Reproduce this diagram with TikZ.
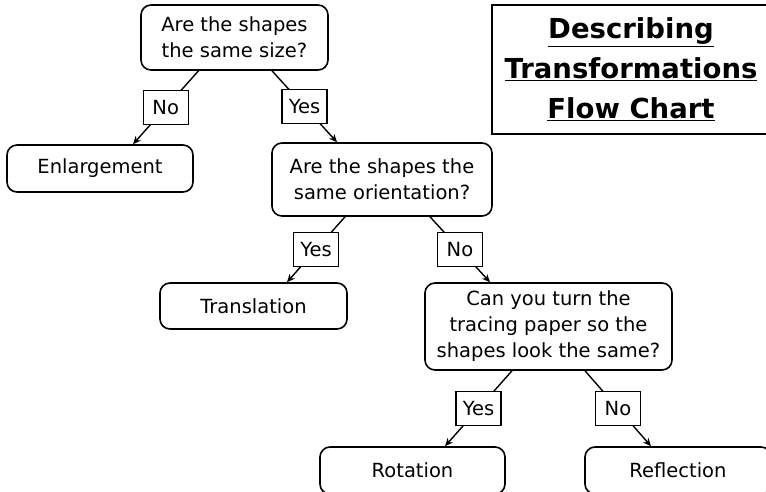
\documentclass[tikz,border=0pt]{standalone}
\usepackage{fontspec}
\setmainfont{DejaVu Sans}
\usetikzlibrary{arrows.meta}

\begin{document}
\begin{tikzpicture}[x=1pt,y=-1pt,
      question/.style = {draw, rounded corners=10pt, line width=1.6pt,
         align=center, inner sep=2pt, font=\fontsize{19.5}{26}\selectfont},
      result/.style = {question},
      answer/.style = {draw, fill=white, line width=1.4pt, minimum width=45pt,
         minimum height=34pt, inner xsep=5pt, inner ysep=0pt,
         font=\fontsize{19.5}{22}\selectfont},
      branch/.style = {line width=1.4pt, -{Stealth[length=8pt,width=7pt]}}
]
   \useasboundingbox (0,0) rectangle (766,491);
   \clip (0,0) rectangle (766,491);

   % title
   \node[draw, line width=1.4pt, minimum width=278pt, minimum height=129pt,
      align=center, font=\bfseries\fontsize{27.5}{40}\selectfont]
      (title) at (631,69.5)
      {\underline{Describing}\\ \underline{Transformations}\\ \underline{Flow Chart}};

   % questions
   \node[question, minimum width=187pt, minimum height=65pt] (size) at (234.5,37.5)
      {Are the shapes\\ the same size?};
   \node[question, minimum width=220pt, minimum height=73pt] (orient) at (382,179.5)
      {Are the shapes the\\ same orientation?};
   \node[question, minimum width=247pt, minimum height=87pt] (turn) at (548.5,326.5)
      {Can you turn the\\ tracing paper so the\\ shapes look the same?};

   % results
   \node[result, minimum width=186pt, minimum height=47pt] (enlarge) at (100,168.5)
      {Enlargement};
   \node[result, minimum width=187pt, minimum height=46pt] (transl) at (253.5,306)
      {Translation};
   \node[result, minimum width=185pt, minimum height=47pt] (rotat) at (412.5,470.5)
      {Rotation};
   \node[result, minimum width=186pt, minimum height=47pt] (reflect) at (678,470.5)
      {Reflection};

   % branches
   \draw[branch] ([xshift=-36pt]size.south) -- node[answer] {No}
      ([xshift=33pt]enlarge.north);
   \draw[branch] ([xshift=37.5pt]size.south) -- node[answer] {Yes}
      ([xshift=-45pt]orient.north);
   \draw[branch] ([xshift=-37pt]orient.south) -- node[answer] {Yes}
      ([xshift=33.5pt]transl.north);
   \draw[branch] ([xshift=48pt]orient.south) -- node[answer] {No}
      ([xshift=-58.5pt]turn.north);
   \draw[branch] ([xshift=-36.5pt]turn.south) -- node[answer] {Yes}
      ([xshift=32.5pt]rotat.north);
   \draw[branch] ([xshift=36.5pt]turn.south) -- node[answer] {No}
      ([xshift=-27pt]reflect.north);
\end{tikzpicture}
\end{document}
